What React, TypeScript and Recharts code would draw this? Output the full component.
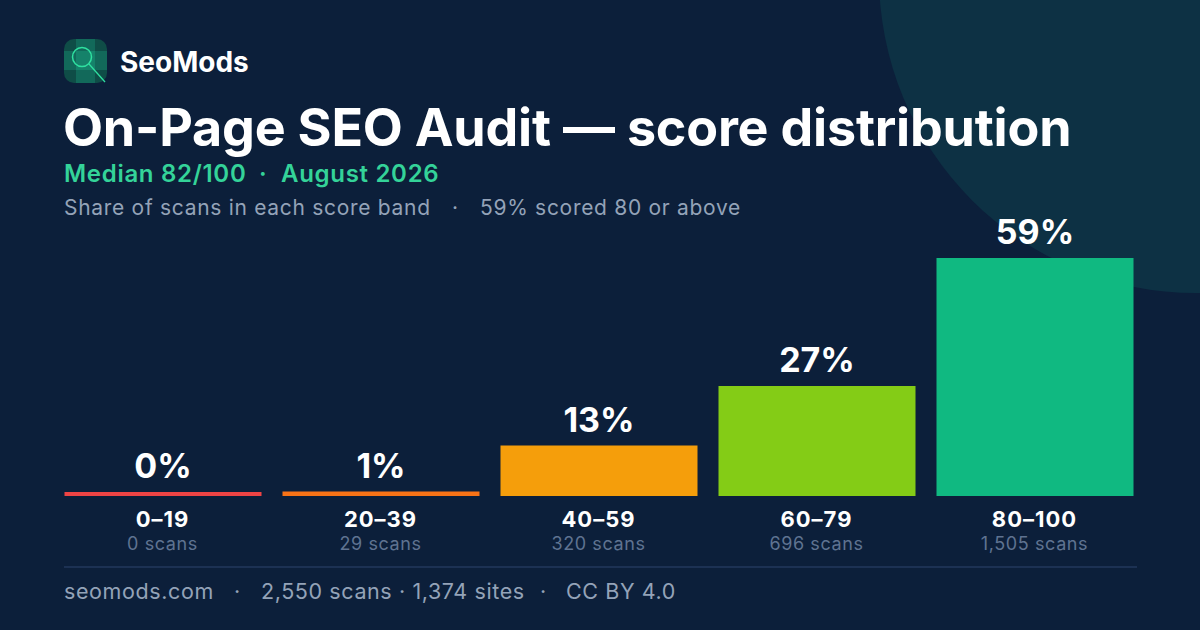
import { Bar, BarChart, Cell, LabelList, XAxis, YAxis } from "recharts";

const bands = ["0–19", "20–39", "40–59", "60–79", "80–100"];
const scans = [0, 29, 320, 696, 1505];
const shares = [0, 1.1, 12.5, 27.3, 59.0];
const bandColors = ["#ef4444", "#f97316", "#f59e0b", "#84cc16", "#10b981"];

const data = bands.map((band, i) => ({ band, scans: scans[i], share: shares[i] }));

const FONT = "Inter, 'Noto Sans', sans-serif";

function BandTick(props: any) {
  const { x, y, index } = props;
  return (
    <g>
      <text x={x} y={y + 31} textAnchor="middle" fill="#ffffff" fontSize={22} fontWeight={700} letterSpacing={1} fontFamily={FONT}>
        {bands[index]}
      </text>
      <text x={x} y={y + 54} textAnchor="middle" fill="#5f7391" fontSize={18} letterSpacing={0.6} fontFamily={FONT}>
        {scans[index].toLocaleString("en-US")} scans
      </text>
    </g>
  );
}

function ShareLabel(props: any) {
  const { x, y, width, value } = props;
  return (
    <text x={x + width / 2} y={y - 14} textAnchor="middle" fill="#ffffff" fontSize={34} fontWeight={700} fontFamily={FONT}>
      {Math.round(value)}%
    </text>
  );
}

function Logo() {
  return (
    <svg width={48} height={48} style={{ position: "absolute", left: 62, top: 38 }}>
      <rect x={2} y={1} width={43} height={44} rx={10} fill="#0f4d47" />
      <rect x={14} y={1} width={19} height={44} fill="#12695a" />
      <rect x={2} y={13} width={43} height={19} fill="#12695a" />
      <rect x={14} y={13} width={19} height={19} fill="#15826a" />
      <circle cx={20} cy={19} r={9.5} fill="none" stroke="#2fe0a0" strokeWidth={1.5} />
      <line x1={27} y1={26} x2={43} y2={44} stroke="#2fe0a0" strokeWidth={1.3} />
    </svg>
  );
}

function Txt({ left, top, children, style }: any) {
  return (
    <div style={{ position: "absolute", left, top, whiteSpace: "pre", ...style }}>
      {children}
    </div>
  );
}

export default function App() {
  const kicker = { color: "#34d399", fontSize: 24, fontWeight: 600, letterSpacing: 0.7 };
  const sub = { color: "#94a3b8", fontSize: 21, letterSpacing: 0.7 };
  const foot = { color: "#94a3b8", fontSize: 21.5, letterSpacing: 0.6 };
  return (
    <div
      style={{
        position: "absolute",
        left: 0,
        top: 0,
        width: 1200,
        height: 630,
        background: "#0c1f3a",
        overflow: "hidden",
        fontFamily: FONT,
      }}
    >
      <div
        style={{
          position: "absolute",
          left: 1196 - 317,
          top: -24 - 317,
          width: 634,
          height: 634,
          borderRadius: "50%",
          background: "#0d3144",
        }}
      />
      <Logo />
      <Txt left={120} top={45} style={{ color: "#fff", fontSize: 28, fontWeight: 700 }}>
        SeoMods
      </Txt>
      <Txt left={63} top={96} style={{ color: "#fff", fontSize: 52, fontWeight: 700, letterSpacing: -0.2, lineHeight: "64px" }}>
        On-Page SEO Audit — score distribution
      </Txt>

      <Txt left={64} top={159} style={kicker}>Median 82/100</Txt>
      <Txt left={259} top={159} style={kicker}>·</Txt>
      <Txt left={281} top={159} style={kicker}>August 2026</Txt>

      <Txt left={64} top={195} style={sub}>Share of scans in each score band</Txt>
      <Txt left={452} top={195} style={sub}>·</Txt>
      <Txt left={480} top={195} style={sub}>59% scored 80 or above</Txt>

      <div style={{ position: "absolute", left: 0, top: 0 }}>
        <BarChart
          width={1200}
          height={630}
          data={data}
          margin={{ top: 254, right: 56.5, bottom: 74, left: 53.5 }}
          barCategoryGap={21 / 2}
        >
          <XAxis
            dataKey="band"
            axisLine={false}
            tickLine={false}
            tickSize={0}
            tickMargin={0}
            height={60}
            interval={0}
            tick={<BandTick />}
          />
          <YAxis hide domain={[0, 60]} />
          <Bar dataKey="share" barSize={197} minPointSize={4} isAnimationActive={false}>
            {data.map((d, i) => (
              <Cell key={d.band} fill={bandColors[i]} />
            ))}
            <LabelList dataKey="share" content={<ShareLabel />} />
          </Bar>
        </BarChart>
      </div>

      <div style={{ position: "absolute", left: 64, top: 566, width: 1073, height: 2, background: "#1c3153" }} />
      <Txt left={64} top={578} style={foot}>seomods.com</Txt>
      <Txt left={234} top={578} style={foot}>·</Txt>
      <Txt left={261} top={578} style={foot}>2,550 scans · 1,374 sites</Txt>
      <Txt left={540} top={578} style={foot}>·</Txt>
      <Txt left={566} top={578} style={foot}>CC BY 4.0</Txt>
    </div>
  );
}
